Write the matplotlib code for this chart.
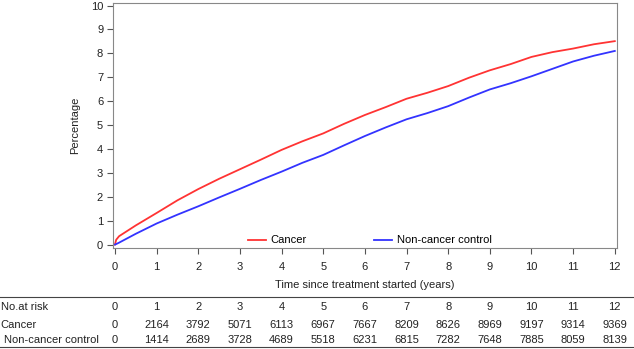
import matplotlib
matplotlib.use('Agg')
import matplotlib.pyplot as plt
import matplotlib.transforms as mtransforms

plt.rcParams['font.family'] = ['Liberation Sans', 'DejaVu Sans']

# cumulative incidence (%)
years = [0, 0.03, 0.1, 0.5, 1, 1.5, 2, 2.5, 3, 3.5, 4, 4.5, 5, 5.5, 6, 6.5, 7, 7.5,
         8, 8.5, 9, 9.5, 10, 10.5, 11, 11.5, 12]
cancer = [0, 0.2, 0.35, 0.8, 1.32, 1.85, 2.32, 2.75, 3.15, 3.55, 3.96, 4.32, 4.65, 5.05,
          5.42, 5.75, 6.1, 6.35, 6.63, 6.98, 7.29, 7.55, 7.85, 8.05, 8.2, 8.38, 8.51]
control = [0, 0.02, 0.08, 0.45, 0.88, 1.25, 1.6, 1.97, 2.33, 2.7, 3.05, 3.42, 3.75, 4.15,
           4.54, 4.9, 5.24, 5.5, 5.79, 6.15, 6.49, 6.75, 7.04, 7.35, 7.66, 7.9, 8.1]

risk_times = list(range(13))
risk_cancer = [0, 2164, 3792, 5071, 6113, 6967, 7667, 8209, 8626, 8969, 9197, 9314, 9369]
risk_control = [0, 1414, 2689, 3728, 4689, 5518, 6231, 6815, 7282, 7648, 7885, 8059, 8139]

fig = plt.figure(figsize=(6.34, 3.49), dpi=100)
ax = fig.add_axes([0.178, 0.289, 0.795, 0.702])

ax.plot(years, cancer, color='#ff3333', lw=1.3, label='Cancer')
ax.plot(years, control, color='#3333ff', lw=1.3, label='Non-cancer control')

ax.set_xlim(-0.05, 12.05)
ax.set_ylim(-0.15, 10.1)
ax.set_xticks(range(13))
ax.set_yticks(range(11))
ax.tick_params(labelsize=8, length=4, color='#555555', labelcolor='#222222')
ax.tick_params(axis='x', pad=6)
ax.tick_params(axis='y', pad=3)
for s in ax.spines.values():
    s.set_color('#888888')
    s.set_linewidth(0.8)

ax.set_ylabel('Percentage', fontsize=8, color='#222222', labelpad=8)
fig.text(0.178 + 0.795 / 2, 0.183, 'Time since treatment started (years)', fontsize=8,
         color='#222222', ha='center', va='center')

ax.legend(loc='lower center', ncol=2, frameon=False, fontsize=8, handlelength=1.6,
          handletextpad=0.4, columnspacing=6.1, bbox_to_anchor=(0.51, -0.03))

# number at risk table
trans = mtransforms.blended_transform_factory(ax.transData, fig.transFigure)
rows = [('No.at risk', [str(t) for t in risk_times], 0.120, 0.001),
        ('Cancer', [str(v) for v in risk_cancer], 0.069, 0.001),
        ('Non-cancer control', [str(v) for v in risk_control], 0.026, 0.006)]
for label, vals, y, x0 in rows:
    fig.text(x0, y, label, fontsize=8, va='center', ha='left', color='#222222')
    for t, v in zip(risk_times, vals):
        ax.text(t, y, v, transform=trans, fontsize=8, va='center', ha='center',
                color='#222222', clip_on=False)

fig.add_artist(plt.Line2D([0, 1], [0.149, 0.149], transform=fig.transFigure,
                          color='#444444', lw=0.8))
fig.add_artist(plt.Line2D([0, 1], [0.006, 0.006], transform=fig.transFigure,
                          color='#444444', lw=0.8))

fig.savefig('out.png', dpi=100)
